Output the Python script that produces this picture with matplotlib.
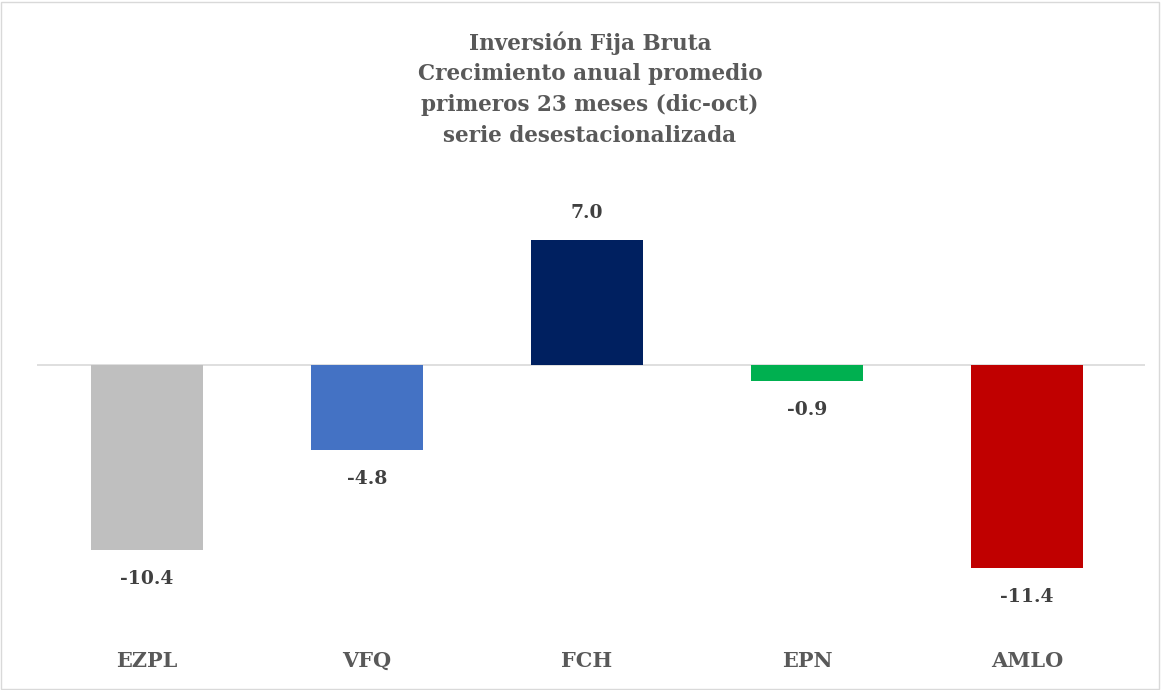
import matplotlib
matplotlib.use("Agg")
import matplotlib.pyplot as plt
from matplotlib.patches import Rectangle

categories = ["EZPL", "VFQ", "FCH", "EPN", "AMLO"]
values = [-10.4, -4.8, 7.0, -0.9, -11.4]
colors = ["#bfbfbf", "#4472c4", "#002060", "#00b050", "#c00000"]
title_lines = ["Inversión Fija Bruta", "Crecimiento anual promedio",
               "primeros 23 meses (dic-oct)", "serie desestacionalizada"]

W, H = 1161, 690
fig = plt.figure(figsize=(W / 100, H / 100), dpi=100)
plt.rcParams['font.family'] = ['DejaVu Serif']
txt = "#595959"
valtxt = "#404040"

# border
fig.patches.append(Rectangle((1 / W, 1 / H), 1 - 3 / W, 1 - 3 / H, transform=fig.transFigure,
                             fill=False, edgecolor="#d9d9d9", linewidth=1))

top_px, bot_px, left_px, right_px = 170, 640, 37, 1145
ax = fig.add_axes([left_px / W, (H - bot_px) / H, (right_px - left_px) / W, (bot_px - top_px) / H])
ppu = 17.85
zero_px = 364.5
ax.set_ylim(-(bot_px - zero_px) / ppu, (zero_px - top_px) / ppu)
ax.set_xlim((left_px - 147) / 220, (right_px - 147) / 220)

x = list(range(len(categories)))
ax.bar(x, values, width=0.505, color=colors, zorder=2)
ax.axhline(0, color="#d9d9d9", linewidth=1.2, zorder=1)

for xi, v in zip(x, values):
    off = 27 if v > 0 else -29
    ax.annotate(f"{v:.1f}", (xi, v), xytext=(0, off * 0.72), textcoords="offset points",
                ha="center", va="center", fontsize=13.5, fontweight="bold", color=valtxt)

ax.set_xticks(x)
ax.set_xticklabels(categories, fontsize=15, fontweight="bold", color=txt)
ax.tick_params(axis="x", length=0, pad=8)
ax.set_yticks([])
for s in ax.spines.values():
    s.set_visible(False)
ax.patch.set_alpha(0)

for i, line in enumerate(title_lines):
    fig.text(590 / W, 1 - (43 + i * 31) / H, line, ha="center", va="center",
             fontsize=15.5, fontweight="bold", color=txt)

fig.savefig("out.png", dpi=100)
